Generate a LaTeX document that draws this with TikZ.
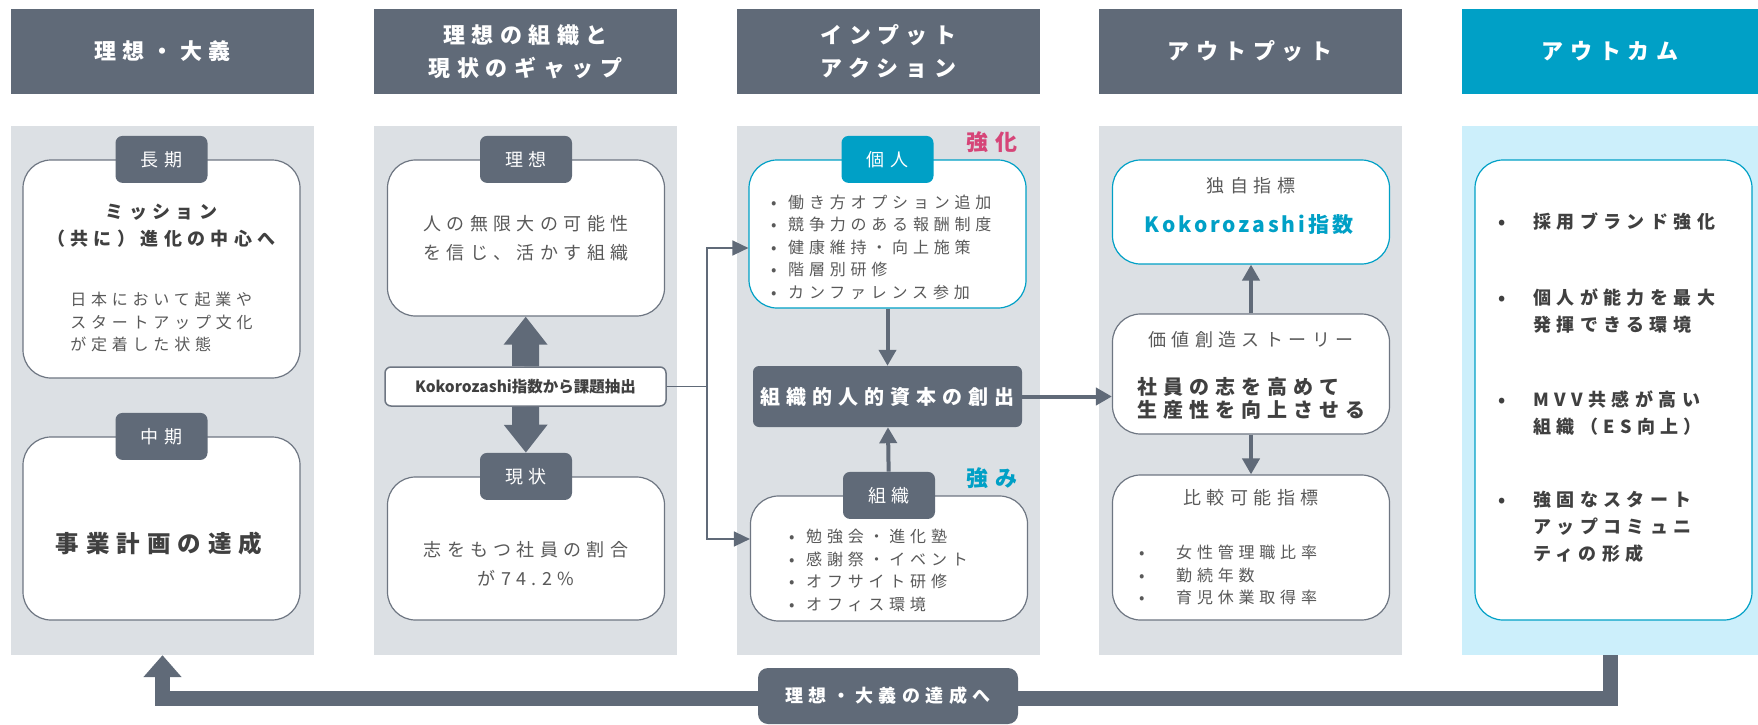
\documentclass[tikz,border=0pt]{standalone}
\usepackage{fontspec}
\setmainfont{Noto Sans CJK JP}
\newfontfamily\jp[LetterSpace=30]{Noto Sans CJK JP}
\newfontfamily\jpmid[LetterSpace=14]{Noto Sans CJK JP}
\usepackage{tikz}
\usetikzlibrary{arrows.meta,positioning,calc}

\definecolor{slate}{RGB}{96,106,120}
\definecolor{panelgrey}{RGB}{220,224,228}
\definecolor{kteal}{RGB}{0,160,198}
\definecolor{paleblue}{RGB}{204,239,251}
\definecolor{ink}{RGB}{64,64,64}
\definecolor{softink}{RGB}{89,89,89}
\definecolor{rose}{RGB}{214,69,120}
\definecolor{edge}{RGB}{110,118,130}

\newcommand{\dotmark}[1]{\makebox[#1][l]{•}}

\begin{document}
\begin{tikzpicture}[x=1pt, y=-1pt,
    header/.style={fill=slate, text=white, minimum width=303pt, minimum height=85pt, inner sep=0pt, align=center, font=\jp\bfseries\fontsize{22}{33}\selectfont},
    panel/.style={fill=panelgrey, minimum width=303pt, minimum height=529pt, inner sep=0pt},
    card/.style={draw=edge, line width=1.2pt, fill=white, rounded corners=28pt, minimum width=277pt, inner sep=0pt},
    tag/.style={fill=slate, text=white, rounded corners=7pt, minimum width=92pt, minimum height=47pt, inner sep=0pt, font=\jp\fontsize{18}{20}\selectfont},
    body/.style={text=softink, inner sep=0pt, font=\jp\fontsize{16}{22.5}\selectfont},
    bigbody/.style={text=softink, inner sep=0pt, align=center, font=\jp\fontsize{18}{29}\selectfont},
    strong/.style={text=ink, inner sep=0pt, font=\jp\bfseries\fontsize{18}{27}\selectfont},
    flow/.style={draw=slate, line width=4pt, -{Triangle[length=16pt,width=17pt]}},
    link/.style={draw=slate, line width=1.5pt},
    fat/.style={draw=slate, line width=27pt, -{Triangle[length=28pt,width=42pt]}},
    loopback/.style={draw=slate, line width=15pt, line join=miter, -{Triangle[length=22pt,width=37pt]}}]

    \useasboundingbox (0,0) rectangle (1758,725);

    % Headers
    \node (h1) at (162.5,51.5) [header] {理想・大義};
    \node (h2) at (525.5,51.5) [header] {理想の組織と\\現状のギャップ};
    \node (h3) at (888.5,51.5) [header] {インプット\\アクション};
    \node (h4) at (1250,51.5) [header] {アウトプット};
    \node (h5) at (1610,51.5) [header, fill=kteal, minimum width=296pt] {アウトカム};

    % Column backgrounds
    \node (p1) at (162.5,390.5) [panel] {};
    \node (p2) at (525.5,390.5) [panel] {};
    \node (p3) at (888.5,390.5) [panel] {};
    \node (p4) at (1250,390.5) [panel] {};
    \node (p5) at (1610,390.5) [panel, fill=paleblue, minimum width=296pt] {};

    % Ideal / purpose
    \node (long) at (161.5,269) [card, minimum height=218pt] {};
    \node (longtag) at (long.north) [tag] {長期};
    \node (mission) at (161.5,225.5) [strong, align=center] {ミッション\\（共に）進化の中心へ};
    \node (longtxt) at (161.5,322) [body, align=left] {日本において起業や\\スタートアップ文化\\が定着した状態};
    \node (mid) at (161.5,528.5) [card, minimum height=183pt] {};
    \node (midtag) at (mid.north) [tag] {中期};
    \node (plan) at (159,544) [strong, font=\jp\bfseries\fontsize{23.5}{28}\selectfont] {事業計画の達成};

    % Ideal organisation vs. current state
    \node (ideal) at (526,238) [card, minimum height=156pt] {};
    \node (idealtag) at (ideal.north) [tag] {理想};
    \node (idealtxt) at (526,238.5) [bigbody] {人の無限大の可能性\\を信じ、活かす組織};
    \node (now) at (526,548.5) [card, minimum height=143pt] {};
    \node (nowtag) at (now.north) [tag] {現状};
    \node (nowtxt) at (526,564) [bigbody] {志をもつ社員の割合\\が74.2\%};
    \node (extract) at (525.5,386.5) [draw=edge, line width=1.5pt, fill=white, rounded corners=6pt, minimum width=281pt, minimum height=39pt, inner sep=0pt, text=ink, font=\bfseries\fontsize{15.5}{17}\selectfont] {Kokorozashi指数から課題抽出};
    \draw[fat] (extract) -- (ideal);
    \draw[fat] (extract) -- (nowtag);

    % Input actions
    \node (indiv) at (887.5,234) [card, draw=kteal, minimum height=148pt] {};
    \node (indivtag) at (indiv.north) [tag, fill=kteal] {個人};
    \node (boost) at (992,142) [strong, text=rose, font=\jp\bfseries\fontsize{22}{24}\selectfont] {強化};
    \node (indivlist) at (771,247) [body, anchor=west, align=left] {\dotmark{17pt}働き方オプション追加\\\dotmark{17pt}競争力のある報酬制度\\\dotmark{17pt}健康維持・向上施策\\\dotmark{17pt}階層別研修\\\dotmark{17pt}カンファレンス参加};
    \node (capital) at (887.5,396.5) [fill=slate, rounded corners=6pt, minimum width=269pt, minimum height=61pt, inner sep=0pt, text=white, font=\jp\bfseries\fontsize{20}{22}\selectfont] {組織的人的資本の創出};
    \node (org) at (889,558.5) [card, minimum height=125pt] {};
    \node (orgtag) at (org.north) [tag] {組織};
    \node (strength) at (992,478) [strong, text=kteal, font=\jp\bfseries\fontsize{22}{24}\selectfont] {強み};
    \node (orglist) at (789,570.5) [body, anchor=west, align=left] {\dotmark{17pt}勉強会・進化塾\\\dotmark{17pt}感謝祭・イベント\\\dotmark{17pt}オフサイト研修\\\dotmark{17pt}オフィス環境};
    \draw[flow] (indiv) -- (capital);
    \draw[flow] (orgtag) -- (capital);

    % Fork from the extraction box
    \coordinate (fork) at (707,386.5);
    \draw[link] (extract.east) -- (fork);
    \draw[link, -{Triangle[length=16pt,width=15pt]}] (fork) |- ([yshift=-14pt]indiv.west);
    \draw[link, -{Triangle[length=16pt,width=15pt]}] (fork) |- ([yshift=19.5pt]org.west);

    % Outputs
    \node (own) at (1251,212) [card, draw=kteal, minimum height=104pt] {};
    \node (owntxt) at (1251,186) [bigbody] {独自指標};
    \node (kindex) at (1249,225) [strong, text=kteal, font=\jpmid\bfseries\fontsize{21}{24}\selectfont] {Kokorozashi指数};
    \node (story) at (1251,374) [card, minimum height=120pt] {};
    \node (storytitle) at (1251,340) [bigbody] {価値創造ストーリー};
    \node (storybold) at (1251,398.5) [strong, align=left, font=\jp\bfseries\fontsize{20}{23.5}\selectfont] {社員の志を高めて\\生産性を向上させる};
    \node (compare) at (1251,547.5) [card, minimum height=145pt] {};
    \node (comptitle) at (1251,498) [bigbody] {比較可能指標};
    \node (complist) at (1139,575) [body, anchor=west, align=left] {\dotmark{37pt}女性管理職比率\\\dotmark{37pt}勤続年数\\\dotmark{37pt}育児休業取得率};
    \draw[flow] (story) -- (own);
    \draw[flow] (story) -- (compare);
    \draw[flow] (capital.east) -- (capital.east -| story.west);

    % Outcomes
    \node (outcome) at (1613.5,390) [card, draw=kteal, minimum height=460pt] {};
    \node (goal1) at (1498,222) [strong, anchor=west, align=left] {\dotmark{35pt}採用ブランド強化};
    \node (goal2) at (1498,311) [strong, anchor=west, align=left] {\dotmark{35pt}個人が能力を最大\\\hspace*{35pt}発揮できる環境};
    \node (goal3) at (1498,413) [strong, anchor=west, align=left] {\dotmark{35pt}MVV共感が高い\\\hspace*{35pt}組織（ES向上）};
    \node (goal4) at (1498,527) [strong, anchor=west, align=left] {\dotmark{35pt}強固なスタート\\\hspace*{35pt}アップコミュニ\\\hspace*{35pt}ティの形成};

    % Back to the ideal
    \draw[loopback] (p5.south) -- ++(0,43) -| (p1.south);
    \node (back) at (888,696) [fill=slate, rounded corners=10pt, minimum width=260pt, minimum height=56pt, inner sep=0pt, text=white, font=\jp\bfseries\fontsize{18}{20}\selectfont] {理想・大義の達成へ};
\end{tikzpicture}
\end{document}
